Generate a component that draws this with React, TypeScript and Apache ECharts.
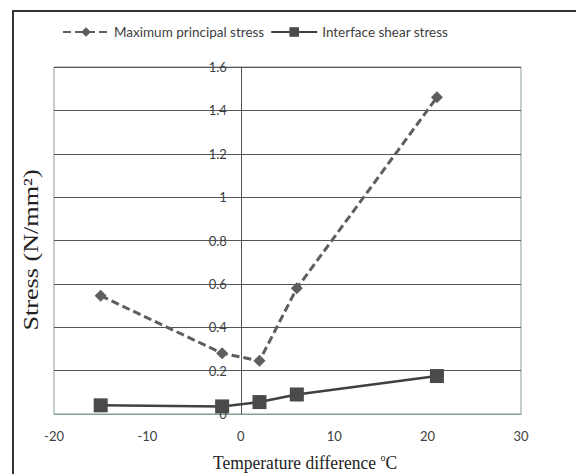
import React, { useEffect, useRef } from "react";
import * as echarts from "echarts";

const temps = [-15, -2, 2, 6, 21];
const principalStress = [0.545, 0.28, 0.245, 0.58, 1.46];
const shearStress = [0.04, 0.035, 0.055, 0.09, 0.175];
const seriesNames = ["Maximum principal stress", "Interface shear stress"];
const xTitle = "Temperature difference {s|o}C";
const yTitle = "Stress (N/mm²)";

const tickFont = "Lato, 'Open Sans', sans-serif";
const serif = "'Liberation Serif', 'Times New Roman', serif";

export default function App() {
  const ref = useRef<HTMLDivElement>(null);
  useEffect(() => {
    document.body.style.margin = "0";
    const chart = echarts.init(ref.current!, null, { renderer: "svg" });
    chart.setOption({
      animation: false,
      backgroundColor: "#ffffff",
      grid: {
        left: 54,
        right: 55,
        top: 67,
        bottom: 60,
        show: true,
        borderColor: "#8a9a9a",
        borderWidth: 1,
      },
      legend: {
        left: 57,
        top: 20,
        itemWidth: 46,
        itemHeight: 12,
        itemGap: 6,
        textStyle: { fontFamily: tickFont, fontSize: 13.5, color: "#404040" },
        data: seriesNames,
      },
      xAxis: {
        type: "value",
        min: -20,
        max: 30,
        interval: 10,
        axisLine: { onZero: false, lineStyle: { color: "#8a9a9a", width: 1 } },
        axisTick: { show: false },
        splitLine: { show: false },
        axisLabel: { margin: 15, fontFamily: tickFont, fontSize: 13, color: "#404040" },
      },
      yAxis: {
        type: "value",
        min: 0,
        max: 1.6,
        interval: 0.2,
        offset: -186.8,
        axisLine: { show: true, onZero: false, lineStyle: { color: "#555555", width: 1 } },
        axisTick: { show: false },
        splitLine: { show: true, lineStyle: { color: "#555555", width: 1 } },
        axisLabel: { margin: 14, fontFamily: tickFont, fontSize: 13, color: "#404040" },
      },
      series: [
        {
          name: seriesNames[0],
          type: "line",
          data: temps.map((t, i) => [t, principalStress[i]]),
          symbol: "diamond",
          symbolSize: 12,
          lineStyle: { color: "#5e5e5e", width: 3, type: [8, 4] },
          itemStyle: { color: "#5e5e5e" },
          z: 3,
        },
        {
          name: seriesNames[1],
          type: "line",
          data: temps.map((t, i) => [t, shearStress[i]]),
          symbol: "rect",
          symbolSize: 14,
          lineStyle: { color: "#404040", width: 2.5 },
          itemStyle: { color: "#4a4a4a" },
          z: 4,
        },
      ],
      graphic: [
        {
          type: "rect",
          shape: { x: 13, y: 11, width: 700, height: 600 },
          style: { fill: "none", stroke: "#333333", lineWidth: 2 },
          silent: true,
        },
        {
          type: "text",
          x: 305,
          y: 462,
          scaleY: 1.13,
          style: {
            text: xTitle,
            fontFamily: serif,
            fontSize: 17.5,
            fill: "#222222",
            align: "center",
            verticalAlign: "middle",
            rich: {
              s: {
                fontFamily: serif,
                fontSize: 10,
                fill: "#222222",
                verticalAlign: "top",
                padding: [0, 0, 6, 0],
              },
            },
          },
        },
        {
          type: "text",
          x: 30,
          y: 250,
          rotation: Math.PI / 2,
          scaleX: 1.19,
          style: {
            text: yTitle,
            fontFamily: serif,
            fontSize: 22,
            fill: "#222222",
            align: "center",
            verticalAlign: "middle",
          },
        },
      ],
    });
    return () => chart.dispose();
  }, []);
  return (
    <div
      ref={ref}
      style={{ position: "fixed", left: 0, top: 0, width: 576, height: 474 }}
    />
  );
}
